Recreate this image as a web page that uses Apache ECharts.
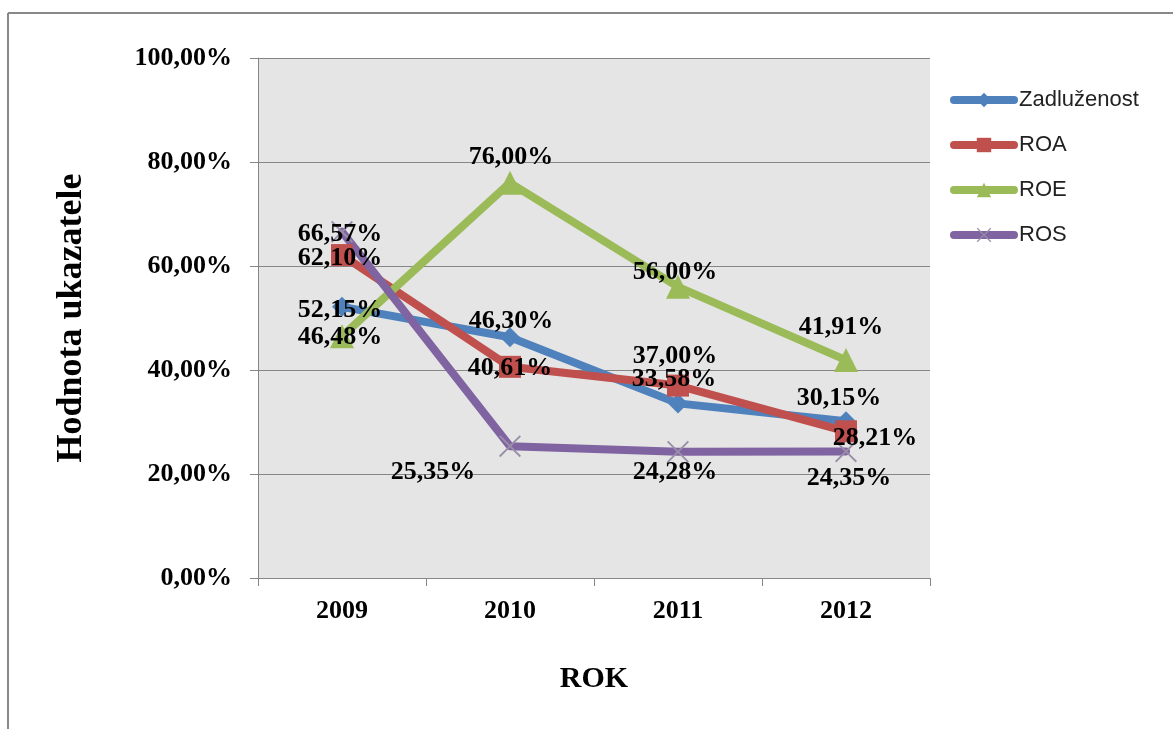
<!DOCTYPE html>
<html>
<head>
<meta charset="utf-8">
<script src="https://cdn.jsdelivr.net/npm/echarts@6/dist/echarts.min.js"></script>
<style>
  html, body { margin: 0; padding: 0; background: #fff; }
</style>
</head>
<body>
<!-- Ukazatele 2009-2012 -->
<div id="main" style="width: 1173px; height: 729px;"></div>
<script>
  // data
  var years = ['2009', '2010', '2011', '2012'];
  var zadluzenost = [52.15, 46.30, 33.58, 30.15];
  var roa = [62.10, 40.61, 37.00, 28.21];
  var roe = [46.48, 76.00, 56.00, 41.91];
  var ros = [66.57, 25.35, 24.28, 24.35];
  var yTicks = [0, 20, 40, 60, 80, 100];

  // posun popisku od bodu (px)
  var offZad = [[-2, 3], [1, -16], [-4, -24], [-7, -23]];
  var offRoa = [[-2, 3], [0, 1], [-3, -29], [29, 7]];
  var offRoe = [[-2, 1], [1, -26], [-3, -15], [-5, -33]];
  var offRos = [[-2, 2], [-77, 26], [-3, 21], [3, 27]];

  var fmt = function (v) {
    return v.toFixed(2).replace('.', ',') + '%';
  };

  var crossPath = 'path://M0,0.6L0.6,0L5,4.4L9.4,0L10,0.6L5.6,5L10,9.4L9.4,10L5,5.6L0.6,10L0,9.4L4.4,5Z';

  function withLabels(values, offsets) {
    return values.map(function (v, i) {
      return {
        value: v,
        label: { offset: offsets[i] }
      };
    });
  }

  function makeSeries(name, values, offsets, color, symbol, size, symbolColor) {
    return {
      name: name,
      type: 'line',
      data: withLabels(values, offsets),
      symbol: symbol,
      symbolSize: size,
      showAllSymbol: true,
      lineStyle: { width: 8, color: color, join: 'round', cap: 'round' },
      itemStyle: { color: symbolColor || color, borderWidth: 0 },
      label: {
        show: true,
        position: 'inside',
        color: '#000',
        fontFamily: 'Liberation Serif',
        fontWeight: 'bold',
        fontSize: 26,
        formatter: function (p) { return fmt(p.value); }
      },
      emphasis: { disabled: true },
      animation: false
    };
  }

  var chart = echarts.init(document.getElementById('main'));
  chart.setOption({
    backgroundColor: '#fff',
    animation: false,
    graphic: [
      { type: 'line', shape: { x1: 8, y1: 13, x2: 1173, y2: 13 }, style: { stroke: '#888', lineWidth: 2 } },
      { type: 'line', shape: { x1: 8, y1: 13, x2: 8, y2: 729 }, style: { stroke: '#888', lineWidth: 2 } }
    ],
    grid: {
      left: 258, top: 58, right: 243, bottom: 151,
      show: true, backgroundColor: '#e5e5e5', borderWidth: 0
    },
    legend: {
      orient: 'vertical',
      left: 945,
      top: 84,
      itemWidth: 60,
      itemHeight: 18,
      itemGap: 23,
      lineStyle: { width: 8, cap: 'round' },
      textStyle: { fontFamily: 'Liberation Sans', fontSize: 22, color: '#222' },
      data: ['Zadluženost', 'ROA', 'ROE', 'ROS']
    },
    xAxis: {
      type: 'category',
      data: years,
      boundaryGap: true,
      name: 'ROK',
      nameLocation: 'middle',
      nameGap: 86,
      nameTextStyle: { fontFamily: 'Liberation Serif', fontWeight: 'bold', fontSize: 30, color: '#000' },
      axisLine: { lineStyle: { color: '#868686', width: 1 } },
      axisTick: { show: true, length: 8, lineStyle: { color: '#868686' } },
      axisLabel: { margin: 20, fontFamily: 'Liberation Serif', fontWeight: 'bold', fontSize: 26, color: '#000' },
      splitLine: { show: false }
    },
    yAxis: {
      type: 'value',
      min: yTicks[0],
      max: yTicks[yTicks.length - 1],
      interval: yTicks[1] - yTicks[0],
      name: 'Hodnota ukazatele',
      nameLocation: 'middle',
      nameRotate: 90,
      nameGap: 168,
      nameTextStyle: { fontFamily: 'Liberation Serif', fontWeight: 'bold', fontSize: 36, color: '#000' },
      axisLine: { show: true, lineStyle: { color: '#868686', width: 1 } },
      axisTick: { show: true, length: 8, lineStyle: { color: '#868686' } },
      axisLabel: {
        margin: 26, fontFamily: 'Liberation Serif', fontWeight: 'bold', fontSize: 26, color: '#000',
        formatter: function (v) { return fmt(v); }
      },
      splitLine: { show: true, lineStyle: { color: '#868686', width: 1 } }
    },
    series: [
      makeSeries('Zadluženost', zadluzenost, offZad, '#4f81bd', 'diamond', 20),
      makeSeries('ROA', roa, offRoa, '#c0504d', 'rect', 22),
      makeSeries('ROE', roe, offRoe, '#9bbb59', 'triangle', 24),
      makeSeries('ROS', ros, offRos, '#8064a2', crossPath, 22, '#9a8fa8')
    ]
  });
  window.onresize = function () {
    chart.resize();
  };
</script>
</body>
</html>
